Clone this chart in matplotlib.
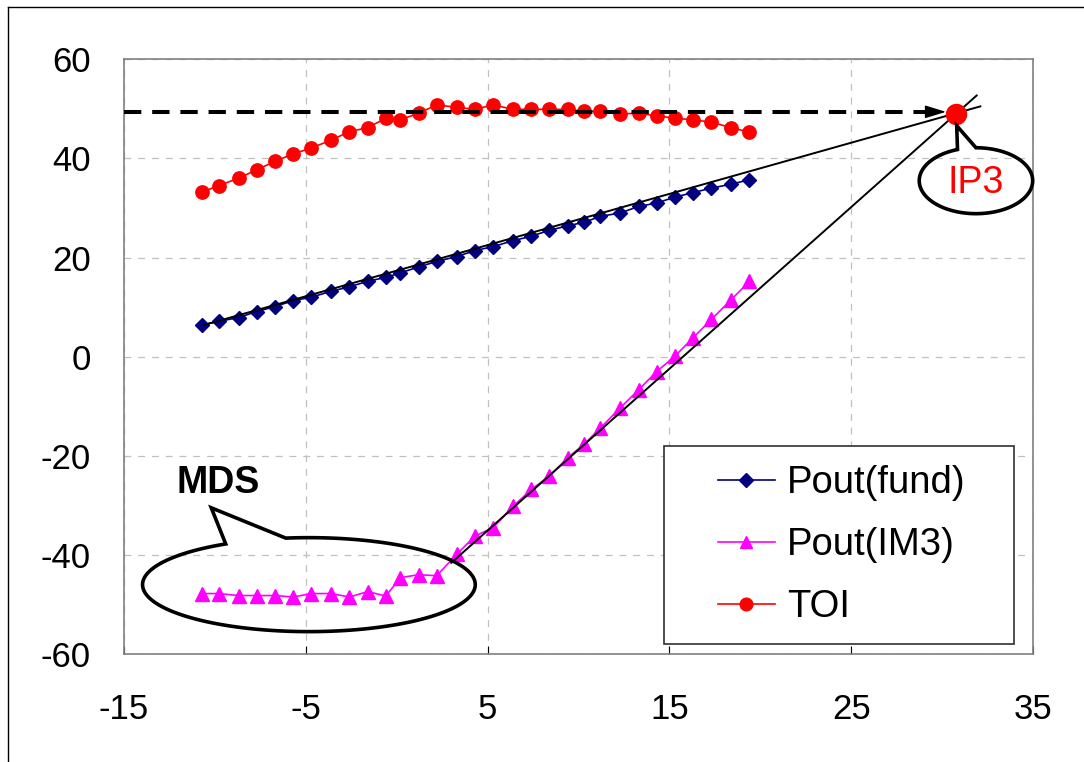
import numpy as np
import matplotlib
matplotlib.use("Agg")
import matplotlib.pyplot as plt
from matplotlib.lines import Line2D
from matplotlib.path import Path
from matplotlib.patches import PathPatch
from matplotlib.legend_handler import HandlerLine2D

plt.rcParams["font.family"] = ["Liberation Sans", "DejaVu Sans"]
plt.rcParams["axes.unicode_minus"] = False

# input power sweep (dBm) and measured outputs (dBm)
pin = [-10.7, -9.8, -8.7, -7.7, -6.7, -5.7, -4.7, -3.6, -2.6, -1.6, -0.6, 0.2, 1.2, 2.2, 3.3,
       4.3, 5.3, 6.4, 7.4, 8.4, 9.4, 10.3, 11.2, 12.3, 13.3, 14.3, 15.3, 16.3, 17.3, 18.4, 19.4]
pout_fund = [6.4, 7.1, 7.9, 9.1, 10.1, 11.3, 12.0, 13.2, 14.1, 15.2, 16.0, 16.9, 18.1, 19.2, 20.2,
             21.4, 22.2, 23.4, 24.3, 25.5, 26.4, 27.1, 28.3, 29.0, 30.3, 31.0, 32.2, 33.1, 34.0, 34.8, 35.7]
pout_im3 = [-47.8, -47.8, -48.2, -48.2, -48.2, -48.5, -47.8, -47.8, -48.5, -47.4, -48.3, -44.6, -44.0, -44.2, -39.9,
            -36.2, -34.5, -30.2, -26.8, -24.1, -20.4, -17.7, -14.4, -10.3, -6.7, -3.0, 0.1, 3.8, 7.5, 11.5, 15.2]
toi = [33.2, 34.5, 36.0, 37.7, 39.4, 40.9, 42.1, 43.7, 45.4, 46.2, 48.1, 47.8, 49.1, 50.8, 50.3,
       49.9, 50.8, 49.9, 49.9, 49.9, 49.9, 49.5, 49.5, 49.0, 49.1, 48.6, 48.1, 47.8, 47.3, 46.2, 45.3]

# extrapolated fit lines and intercept
fund_fit_x = [-10.6, 32.1]
fund_fit_y = [6.4, 50.5]
im3_fit_x = [3.0, 31.9]
im3_fit_y = [-41.6, 52.7]
ip3_x, ip3_y = 30.76, 49.0
toi_level = 49.4

xticks = [-15, -5, 5, 15, 25, 35]
yticks = [-60, -40, -20, 0, 20, 40, 60]


class IndentHandler(HandlerLine2D):
    # legend line drawn only on the right part of the handle box
    def __init__(self, frac, **kw):
        super().__init__(**kw)
        self.frac = frac

    def create_artists(self, legend, orig_handle, xdescent, ydescent, width, height, fontsize, trans):
        off = width * self.frac
        return super().create_artists(legend, orig_handle, xdescent - off, ydescent,
                                      width - off, height, fontsize, trans)


def callout(ax, cx, cy, a, b, t1, t2, apex, lw=2.6):
    # ellipse callout with a wedge between angles t1 < t2 (degrees)
    t = np.radians(np.linspace(t2, t1 + 360, 200))
    xs = list(cx + a * np.cos(t)) + [apex[0]]
    ys = list(cy + b * np.sin(t)) + [apex[1]]
    verts = list(zip(xs, ys)) + [(xs[0], ys[0])]
    codes = [Path.MOVETO] + [Path.LINETO] * (len(verts) - 2) + [Path.CLOSEPOLY]
    ax.add_patch(PathPatch(Path(verts, codes), fill=False, ec="k", lw=lw,
                           joinstyle="miter", zorder=6, clip_on=False))


fig = plt.figure(figsize=(10.84, 7.62), dpi=100)
ax = fig.add_axes([0.1144, 0.1417, 0.8386, 0.7805])

ax.plot(pin, pout_fund, color="#000080", lw=1.2, marker="D", ms=7.0, mec="#000080",
        label="Pout(fund)", zorder=3)
ax.plot(pin, pout_im3, color="#ff00ff", lw=1.2, marker="^", ms=9.5, mec="#ff00ff",
        label="Pout(IM3)", zorder=3)
ax.plot(pin, toi, color="#ff0000", lw=1.2, marker="o", ms=9.6, mec="#ff0000",
        label="TOI", zorder=3)

ax.plot(fund_fit_x, fund_fit_y, color="k", lw=1.4, zorder=4)
ax.plot(im3_fit_x, im3_fit_y, color="k", lw=1.4, zorder=4)

# dashed arrow to the intercept
ax.plot([-15, ip3_x - 1.2], [toi_level, toi_level], color="k", lw=2.9,
        ls=(0, (4.3, 2.7)), dash_capstyle="butt", zorder=5, clip_on=False)
ax.annotate("", xy=(ip3_x - 0.55, toi_level), xytext=(ip3_x - 1.6, toi_level),
            arrowprops=dict(arrowstyle="-|>,head_length=1.3,head_width=0.4", color="k",
                            lw=1.0, shrinkA=0, shrinkB=0), zorder=5)
ax.plot([ip3_x], [ip3_y], "o", color="#ff0000", ms=14.4, zorder=6, clip_on=False)

# callouts
callout(ax, 31.86, 35.5, 3.12, 6.65, 90, 109, (30.8, 46.6))
ax.text(31.86, 35.1, "IP3", color="#ff0000", fontsize=27, ha="center", va="center", zorder=7)
callout(ax, -4.83, -46.0, 9.15, 9.48, 98, 120, (-10.2, -30.5))
ax.text(-9.8, -25.5, "MDS", color="k", fontsize=27, fontweight="bold",
        ha="center", va="center", zorder=7)

ax.set_xlim(-15, 35)
ax.set_ylim(-60, 60)
ax.set_xticks(xticks)
ax.set_yticks(yticks)
ax.grid(True, color="#c0c0c0", lw=0.9, ls=(0, (5.5, 5.5)))
ax.set_axisbelow(True)
ax.tick_params(axis="x", direction="in", length=6, width=0.8, color="k",
               labelsize=25, pad=28)
ax.tick_params(axis="y", length=0, labelsize=25, pad=24)
for s in ax.spines.values():
    s.set_color("#808080")
    s.set_linewidth(1.2)

leg = ax.legend(loc="upper left", bbox_to_anchor=(0.594, 0.0, 0.385, 0.3496),
                mode="expand", borderaxespad=0, fontsize=27.5, frameon=True, fancybox=False,
                edgecolor="#303030", framealpha=1, borderpad=0.5, labelspacing=0.68,
                handlelength=2.4, handletextpad=0.32,
                handler_map={Line2D: IndentHandler(0.38)})
leg.get_frame().set_linewidth(1.2)
for h in leg.legend_handles:
    h.set_markersize(h.get_markersize() * 0.95)
leg.set_zorder(10)

# outer frame (left and top edges visible)
fig.add_artist(Line2D([8 / 1084, 8 / 1084], [0, 1 - 7 / 762], color="k", lw=1.0))
fig.add_artist(Line2D([8 / 1084, 1], [1 - 7 / 762, 1 - 7 / 762], color="k", lw=1.0))

fig.savefig("out.png", dpi=100)
